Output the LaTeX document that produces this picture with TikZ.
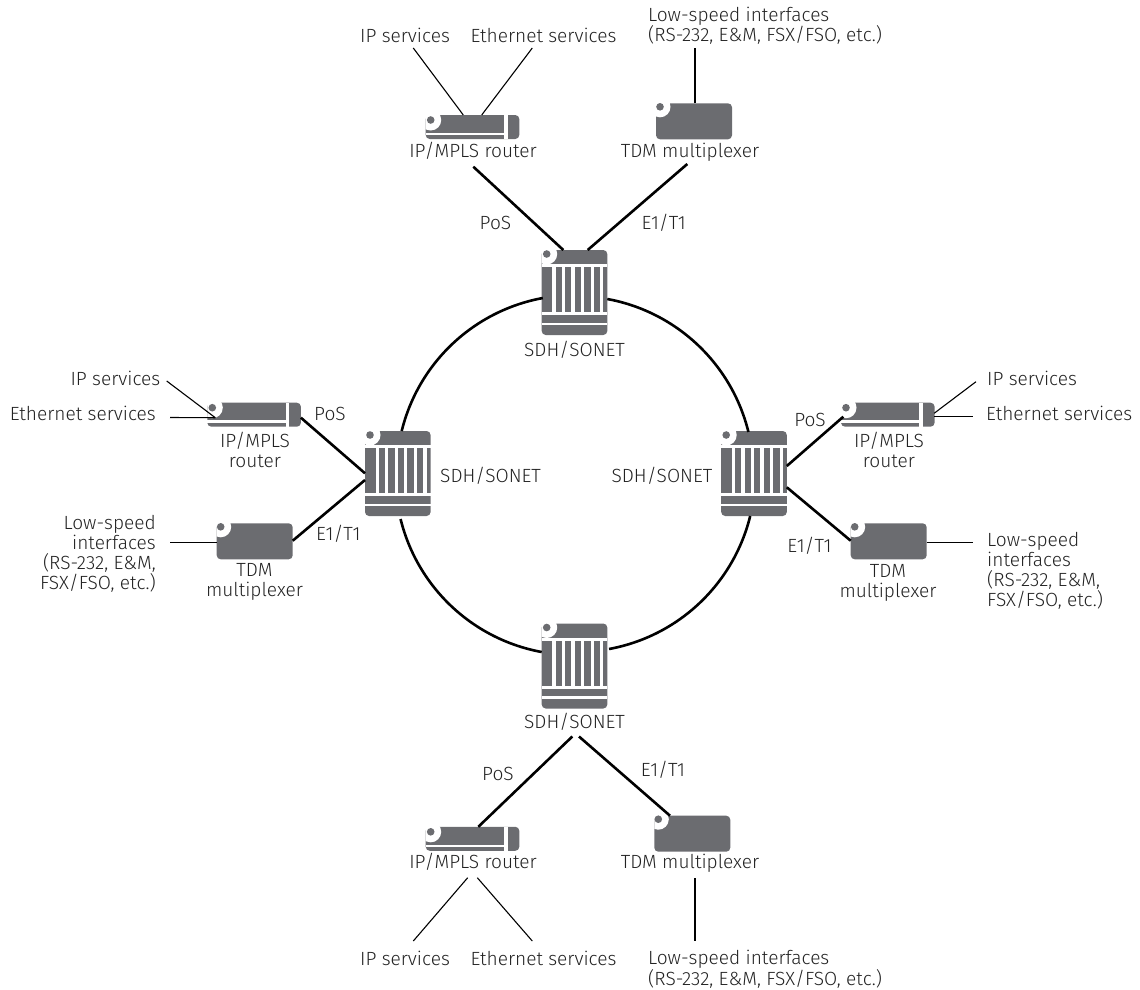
\documentclass[tikz,border=0pt]{standalone}
\usepackage{fontspec}
\setmainfont{Fira Sans}[UprightFont=* Light]
\usetikzlibrary{calc}
\definecolor{dev}{HTML}{6B6C70}
\definecolor{txt}{HTML}{222222}
\tikzset{
  lab/.style={text=txt,font=\fontsize{19.1}{20.2}\selectfont,inner sep=0pt,align=center,yshift=-0.8pt},
  link/.style={draw=black,line width=2.6pt},
  thin link/.style={draw=black,line width=1.1pt},
  dev base/.style={fill=dev,rounded corners=4pt,inner sep=0pt,outer sep=0pt,anchor=north west},
  sdhbox/.style={dev base,minimum width=65.6pt,minimum height=85pt},
  routerbox/.style={dev base,minimum width=93.6pt,minimum height=24pt},
  tdmbox/.style={dev base,minimum width=76pt,minimum height=36pt},
}
\newcommand{\notch}[2]{\fill[white] #1 circle (#2pt);\fill[dev] #1 circle (3.8pt);}
\newcommand{\sdhdetail}[1]{\begin{scope}[shift={(#1.north west)}]
  \fill[white] (0,14) rectangle (65.6,17);
  \foreach \i in {0,...,5}{\fill[white] ({10.6+\i*9.55},14) rectangle ({13.8+\i*9.55},62);}
  \fill[white] (0,62) rectangle (65.6,65);
  \fill[white] (0,72.5) rectangle (65.6,75);
  \begin{scope}\clip (0,0) rectangle (65.6,85);\notch{(5,4)}{10.5}\end{scope}
\end{scope}}
\newcommand{\routerdetail}[1]{\begin{scope}[shift={(#1.north west)}]
  \fill[white] (0,17.7) rectangle (78.3,20);
  \fill[white] (78.3,0) rectangle (82,24);
  \begin{scope}\clip (0,0) rectangle (93.6,24);\notch{(5,5)}{10.5}\end{scope}
\end{scope}}
\newcommand{\tdmdetail}[1]{\begin{scope}[shift={(#1.north west)}]
  \begin{scope}\clip (0,0) rectangle (76,36);\notch{(4,3.5)}{10.5}\end{scope}
\end{scope}}
\begin{document}
\begin{tikzpicture}[x=1pt,y=-1pt]
\useasboundingbox (0,0) rectangle (1140,989);
% devices
\node[sdhbox] (st) at (541.7,250) {};
\node[sdhbox] (sl) at (365,431) {};
\node[sdhbox] (sr) at (721.2,431) {};
\node[sdhbox] (sb) at (541.7,623.5) {};
\node[routerbox] (rt) at (425.7,115) {};
\node[routerbox] (rl) at (207.3,402.7) {};
\node[routerbox] (rr) at (841,402.7) {};
\node[routerbox] (rb) at (425.7,826.8) {};
\node[tdmbox] (tt) at (656,103.3) {};
\node[tdmbox] (tl) at (216.7,523.3) {};
\node[tdmbox] (tr) at (850.7,523.3) {};
\node[tdmbox] (tb) at (654.3,815.7) {};
\sdhdetail{st}\sdhdetail{sl}\sdhdetail{sr}\sdhdetail{sb}
\routerdetail{rt}\routerdetail{rl}\routerdetail{rr}\routerdetail{rb}
\tdmdetail{tt}\tdmdetail{tl}\tdmdetail{tr}\tdmdetail{tb}
% device labels
\node[lab,anchor=base] (lrt) at (473,156.5) {IP/MPLS router};
\node[lab,anchor=base] (ltt) at (690,156.5) {TDM multiplexer};
\node[lab,anchor=base] (lst) at (574.5,355.5) {SDH/SONET};
\node[lab,anchor=base] (lsb) at (574.5,727.5) {SDH/SONET};
\node[lab,anchor=base west] (lsl) at (440,482) {SDH/SONET};
\node[lab,anchor=base east] (lsr) at (712.5,482) {SDH/SONET};
\node[lab] (lrl) at (255,449) {IP/MPLS\\router};
\node[lab] (lrr) at (889,449) {IP/MPLS\\router};
\node[lab] (ltl) at (254.5,581.5) {TDM\\multiplexer};
\node[lab] (ltr) at (888,582.5) {TDM\\multiplexer};
\node[lab,anchor=base] (lrb) at (473,868) {IP/MPLS router};
\node[lab,anchor=base] (ltb) at (690,868) {TDM multiplexer};
% service labels
\node[lab,anchor=base] (ipt) at (405,41.5) {IP services};
\node[lab,anchor=base] (ett) at (543.5,41.5) {Ethernet services};
\node[lab,align=left,anchor=north west] (lst1) at (648,6.2) {Low-speed interfaces\\(RS-232, E\&M, FSX/FSO, etc.)};
\node[lab,anchor=base east] (ipl) at (160.5,385) {IP services};
\node[lab,anchor=base east] (etl) at (156,420) {Ethernet services};
\node[lab,align=right,anchor=east] (lsl1) at (156,553) {Low-speed\\interfaces\\(RS-232, E\&M,\\FSX/FSO, etc.)};
\node[lab,anchor=base west] (ipr) at (987,385) {IP services};
\node[lab,anchor=base west] (etr) at (986,420) {Ethernet services};
\node[lab,align=left,anchor=west] (lsr1) at (987,570) {Low-speed\\interfaces\\(RS-232, E\&M,\\FSX/FSO, etc.)};
\node[lab,anchor=base] (ipb) at (405,965) {IP services};
\node[lab,anchor=base] (etb) at (543.5,965) {Ethernet services};
\node[lab,align=left,anchor=north west] (lsb1) at (648,949.5) {Low-speed interfaces\\(RS-232, E\&M, FSX/FSO, etc.)};
% link labels
\node[lab,anchor=base] (pt) at (495.5,228.5) {PoS};
\node[lab,anchor=base] (et) at (663.7,228.5) {E1/T1};
\node[lab,anchor=base] (pl) at (330,420) {PoS};
\node[lab,anchor=base] (el) at (338.3,540) {E1/T1};
\node[lab,anchor=base] (pr) at (810,425.7) {PoS};
\node[lab,anchor=base] (er) at (809.5,551.7) {E1/T1};
\node[lab,anchor=base] (pb) at (498,780) {PoS};
\node[lab,anchor=base] (eb) at (663,776) {E1/T1};
% ring
\draw[link] ($(st.south east)+(0,-36)$) arc[start angle=-79.6,end angle=-13.8,radius=178.5];
\draw[link] ($(sr.south west)+(29,0)$) arc[start angle=13.8,end angle=79.6,radius=178.5];
\draw[link] ($(sb.south west)+(0,-56.5)$) arc[start angle=100.4,end angle=166.2,radius=178.5];
\draw[link] ($(sl.north west)+(36.7,0)$) arc[start angle=193.8,end angle=259.6,radius=178.5];
% thick connectors
\draw[link] ($(rt.north west)+(47.6,51.7)$) -- ($(st.north west)+(21.6,0)$);
\draw[link] ($(tt.north west)+(31.3,60.7)$) -- ($(st.north west)+(46,0)$);
\draw[link] ($(rl.north east)+(0,15)$) -- ($(sl.north west)+(0,42.3)$);
\draw[link] ($(tl.north east)+(0,17.4)$) -- ($(sl.north west)+(0,49)$);
\draw[link] ($(rr.north west)+(2.3,14)$) -- ($(sr.north east)+(0,35)$);
\draw[link] ($(tr.north west)+(0,17.4)$) -- ($(sr.north east)+(0,56.3)$);
\draw[link] ($(sb.south west)+(30.6,28)$) -- ($(rb.north west)+(52.6,0)$);
\draw[link] ($(sb.south west)+(37.3,28)$) -- ($(tb.north west)+(15.7,0)$);
% thin connectors
\coordinate (cipt) at (413.3,48);
\coordinate (cett) at (532.3,48);
\coordinate (clst) at (695,48);
\coordinate (cipl) at (166.7,381);
\coordinate (cetl) at (170,417.5);
\coordinate (clsl) at (170,542.3);
\coordinate (cipr) at (976,381.7);
\coordinate (cetr) at (973,416.7);
\coordinate (clsr) at (973,542.3);
\coordinate (cipb) at (413.3,941);
\coordinate (cetb) at (532.3,941);
\coordinate (clsb) at (695,941);
\coordinate (crb1) at (467.7,877.7);
\coordinate (crb2) at (477.3,877.7);
\coordinate (ctb) at (695,878);
\draw[thin link] (cipt) -- ($(rt.north west)+(37.6,0)$);
\draw[thin link] (cett) -- ($(rt.north west)+(56,0)$);
\draw[thin link] ($(tt.north west)+(39,0)$) -- (clst);
\draw[thin link] (cipl) -- ($(rl.north west)+(8,15)$);
\draw[thin link] (cetl) -- ($(rl.north west)+(8,15)$);
\draw[thin link] ($(tl.north west)+(0,19)$) -- (clsl);
\draw[thin link] ($(rr.north east)+(-0.5,10.6)$) -- (cipr);
\draw[thin link] ($(rr.north east)+(-0.5,14)$) -- (cetr);
\draw[thin link] ($(tr.north east)+(0,19)$) -- (clsr);
\draw[thin link] (crb1) -- (cipb);
\draw[thin link] (crb2) -- (cetb);
\draw[thin link] (ctb) -- (clsb);
\end{tikzpicture}
\end{document}
